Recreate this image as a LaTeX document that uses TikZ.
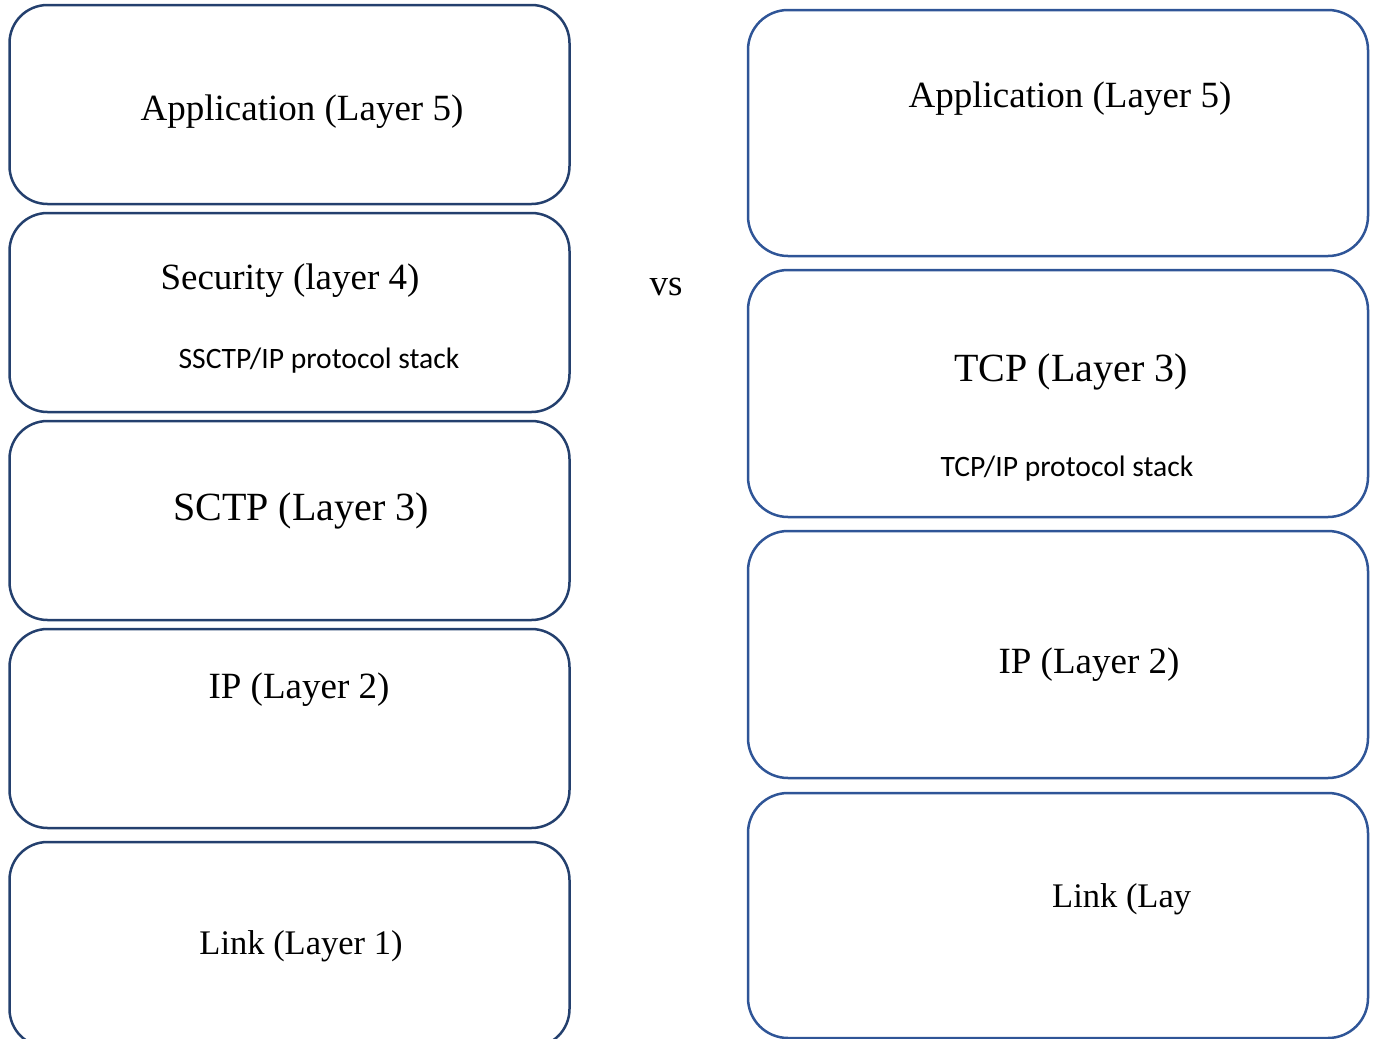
\documentclass[tikz,border=0pt]{standalone}
\usepackage{fontspec}
\setmainfont{Liberation Serif}
\newfontfamily\calfont{Carlito}
\definecolor{lnavy}{HTML}{24406E}
\definecolor{rblue}{HTML}{2F5597}
\begin{document}
\begin{tikzpicture}[x=1pt,y=-1pt,
  lbox/.style={draw=lnavy,line width=2.5pt,rounded corners=38pt,rectangle,minimum width=560pt,inner sep=0pt},
  rbox/.style={draw=rblue,line width=2.5pt,rounded corners=40pt,rectangle,minimum width=620pt,inner sep=0pt},
  big/.style={inner sep=0pt,font=\fontsize{37}{40}\selectfont},
  linkf/.style={inner sep=0pt,font=\fontsize{34.5}{38}\selectfont},
  bigger/.style={inner sep=0pt,font=\fontsize{40}{44}\selectfont},
  small/.style={inner sep=0pt,font=\calfont\fontsize{29.6}{32}\selectfont}]
\useasboundingbox (0,0) rectangle (1377,1039);
\clip (0,0) rectangle (1377,1039);
% left stack
\node[lbox,minimum height=199pt] (l1) at (289.5,104.5) {};
\node[lbox,minimum height=199pt] (l2) at (289.5,312.5) {};
\node[lbox,minimum height=199pt] (l3) at (289.5,520.5) {};
\node[lbox,minimum height=199pt] (l4) at (289.5,728.5) {};
\node[lbox,minimum height=205pt] (l5) at (289.5,944.5) {};
\node[big] (t1) at (302,112) {Application (Layer 5)};
\node[big] (t2) at (290,281) {Security (layer 4)};
\node[small] (t2b) at (319,361) {SSCTP/IP protocol stack};
\node[bigger] (t3) at (301,511) {SCTP (Layer 3)};
\node[big] (t4) at (299,690) {IP (Layer 2)};
\node[linkf] (t5) at (301,946) {Link (Layer 1)};
% vs
\node[big] (vs) at (666,287) {vs};
% right stack
\node[rbox,minimum height=246pt] (r1) at (1058,133) {};
\node[rbox,minimum height=247pt] (r2) at (1058,393.5) {};
\node[rbox,minimum height=247pt] (r3) at (1058,654.5) {};
\node[rbox,minimum height=245pt] (r4) at (1058,915.5) {};
\node[big] (u1) at (1070,99) {Application (Layer 5)};
\node[bigger] (u2) at (1071,372) {TCP (Layer 3)};
\node[small] (u2b) at (1067,469) {TCP/IP protocol stack};
\node[big] (u3) at (1089,665) {IP (Layer 2)};
\node[linkf,anchor=west] (u4) at (1052,899) {Link (Lay};
\end{tikzpicture}
\end{document}
